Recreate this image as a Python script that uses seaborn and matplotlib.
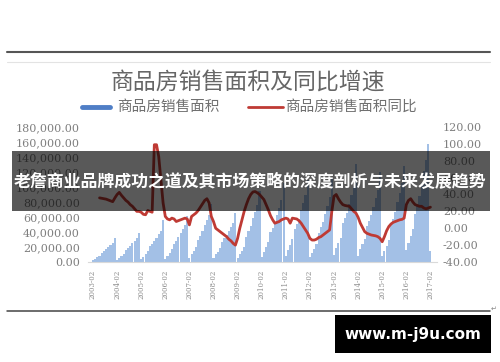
import numpy as np
import pandas as pd
import matplotlib
matplotlib.use('Agg')
import matplotlib.pyplot as plt
import seaborn as sns
from matplotlib.lines import Line2D
from matplotlib.patches import Rectangle

sns.set_theme(style='white')
plt.rcParams['font.family'] = ['Noto Sans CJK SC', 'DejaVu Sans']

# ---------------- data ----------------
tick_labels = ['2003-02', '2004-02', '2005-02', '2006-02', '2007-02', '2008-02', '2009-02',
               '2010-02', '2011-02', '2012-02', '2013-02', '2014-02', '2015-02', '2016-02', '2017-02']

# cumulative commercial housing sales area (Feb..Dec of each year)
area_2003 = [2600, 4400, 6300, 8500, 12000, 14300, 16800, 19500, 22500, 25700, 32500]
area_2004 = [3100, 6000, 8400, 11300, 16300, 19200, 22000, 25000, 28300, 31500, 38200]
area_2005 = [3500, 7300, 10600, 14400, 20700, 24300, 28000, 32500, 36800, 41500, 55500]
area_2006 = [4100, 8600, 12400, 16900, 24100, 28600, 33300, 39000, 44500, 50000, 61900]
area_2007 = [5100, 10300, 14900, 20300, 29100, 35000, 41000, 48800, 55400, 62300, 77400]
area_2008 = [5500, 10200, 13900, 18200, 27100, 31400, 35600, 41700, 46900, 52400, 66000]
area_2009 = [5600, 10600, 15000, 20400, 33400, 40700, 48500, 58200, 66800, 76500, 94800]
area_2010 = [7200, 13700, 19600, 26300, 39400, 45600, 52400, 62500, 72400, 83200, 104800]
area_2011 = [8000, 15600, 22500, 30100, 44000, 50200, 57700, 68700, 79000, 89900, 109900]
area_2012 = [6300, 12400, 17900, 24600, 39200, 46200, 53500, 63400, 74200, 86600, 111300]
area_2013 = [9900, 18400, 25100, 32500, 51400, 58300, 66000, 78000, 88800, 101800, 130600]
area_2014 = [8300, 17000, 23400, 30600, 48400, 54500, 62200, 73700, 84700, 96200, 120600]
area_2015 = [7600, 15000, 21100, 28700, 50400, 57600, 66300, 79800, 91800, 106000, 128500]
area_2016 = [15600, 25400, 34300, 44500, 64300, 76000, 87400, 105200, 121200, 135800, 157300]
area_2017 = [15200]

# year-on-year growth (%)
yoy = [np.nan, np.nan, np.nan, 36, 35.5, 35, 34.5, 33.5, 32.5, 31.5, 36,
       40, 42.5, 39, 36, 33, 31, 28, 26, 23, 20, 20,
       19, 16.5, 16, 21, 20, 19, 99, 99, 85, 57, 30,
       14, 11, 10, 12, 11, 8, 9, 10, 11, 12, 11,
       4, 14, 16, 18, 21, 25, 29, 33, 35, 30, 14,
       8, 0, -2, -4, -6, -8, -10, -13, -15, -18, -20,
       -12, 0, 10, 20, 28, 35, 40, 43, 43.5, 42, 40,
       37, 34, 28, 22, 15, 10, 6, 7, 8, 10, 11,
       12, 11, 6, 12, 11.5, 11, 9, 6, 2, -2, -6,
       -12, -14, -14, -13, -11, -10, -8, -6, -4, -2, 20,
       38, 40, 35, 31, 28, 27, 26.5, 26, 23, 20, 18,
       13, 6, 1, -4, -6, -7, -8, -8.5, -9, -10, -12,
       -16, -10, -3, 2, 5, 7, 8, 9, 10, 10.5, 12,
       28, 33, 35, 31, 28, 27, 26, 26, 24, 23, 24,
       25]

area = (area_2003 + area_2004 + area_2005 + area_2006 + area_2007 + area_2008 + area_2009 +
        area_2010 + area_2011 + area_2012 + area_2013 + area_2014 + area_2015 + area_2016 + area_2017)

df = pd.DataFrame({'idx': np.arange(len(area)), 'area': area, 'yoy': yoy})

# ---------------- figure ----------------
W, H = 500, 362
fig = plt.figure(figsize=(W / 100, H / 100), dpi=100)
fig.patch.set_facecolor('white')

def fx(px):
    return px / W

def fy(py):
    return 1 - py / H

ax = fig.add_axes([fx(87.5), fy(262), (437 - 87.5) / W, 135 / H])
sns.barplot(data=df, x='idx', y='area', native_scale=True, color='#A3C0E6',
            saturation=1, width=0.97, errorbar=None, linewidth=0, ax=ax)
ax.set_xlim(-2.5, 157)
ax.set_ylim(0, 180000)
ax.set_yticks(range(0, 180001, 20000))
ax.set_yticklabels([f'{v:,.2f}' for v in range(0, 180001, 20000)],
                   fontsize=8, color='#7f7f7f', family='DejaVu Serif')
ax.set_xticks(list(range(0, 155, 11)))
ax.set_xticklabels(tick_labels, rotation=90, fontsize=5, color='#8c8c8c', family='DejaVu Serif')
ax.tick_params(axis='both', length=0)
ax.tick_params(axis='y', pad=5.4)
ax.tick_params(axis='x', pad=5.5)
ax.set_xlabel('')
ax.set_ylabel('')
for s in ['top', 'left', 'right']:
    ax.spines[s].set_visible(False)
ax.spines['bottom'].set_color('#d9d9d9')
ax.spines['bottom'].set_linewidth(0.8)
ax.set_facecolor('none')

ax2 = ax.twinx()
sns.lineplot(data=df, x='idx', y='yoy', ax=ax2, color='#BF3A34', linewidth=2.0)
ax2.set_ylim(-40, 120)
ax2.set_yticks(range(-40, 121, 20))
ax2.set_yticklabels([f'{v:.2f}' for v in range(-40, 121, 20)],
                    fontsize=8, color='#7f7f7f', family='DejaVu Serif')
ax2.tick_params(axis='y', length=0, pad=4.3)
ax2.set_xlim(-2.5, 157)
ax2.set_ylabel('')
ax2.set_xlabel('')
for s in ['top', 'left', 'right', 'bottom']:
    ax2.spines[s].set_visible(False)

# title
fig.text(fx(248), fy(82), '商品房销售面积及同比增速', ha='center', va='center',
         fontsize=16.5, color='#666666')

# legend
fig.add_artist(Line2D([fx(82), fx(110)], [fy(107), fy(107)], color='#4F7EC6', lw=3.5))
fig.text(fx(117), fy(107), '商品房销售面积', ha='left', va='center', fontsize=10.5, color='#707070')
fig.add_artist(Line2D([fx(248), fx(283)], [fy(107), fy(107)], color='#BF3A34', lw=2.0))
fig.text(fx(285), fy(107), '商品房销售面积同比', ha='left', va='center', fontsize=10.5, color='#707070')

# page borders
fig.add_artist(Line2D([fx(7), fx(490)], [fy(51.5), fy(51.5)], color='#555555', lw=1.5))
fig.add_artist(Line2D([fx(7), fx(490)], [fy(62), fy(62)], color='#e3e3e3', lw=0.8))
fig.add_artist(Line2D([fx(7), fx(490)], [fy(311), fy(311)], color='#444444', lw=1.1))
fig.text(fx(491), fy(309), '↵', fontsize=5, color='#888888', family='DejaVu Sans',
         ha='left', va='center')

# banner overlay
fig.add_artist(Rectangle((fx(12), fy(211)), fx(490) - fx(12), (211 - 151) / H,
                         transform=fig.transFigure, facecolor='black', alpha=0.65,
                         edgecolor='none'))
fig.text(fx(250), fy(182), '老詹商业品牌成功之道及其市场策略的深度剖析与未来发展趋势',
         ha='center', va='center', fontsize=12.2, color='white', fontweight='bold')

# watermark box
fig.add_artist(Rectangle((fx(335), fy(353)), fx(491) - fx(335), (353 - 315) / H,
                         transform=fig.transFigure, facecolor='black', edgecolor='none'))
fig.text(fx(413), fy(334), 'www.m-j9u.com', ha='center', va='center', fontsize=11,
         color='white', fontweight='bold', family='DejaVu Sans')

fig.savefig('out.png', dpi=100)
